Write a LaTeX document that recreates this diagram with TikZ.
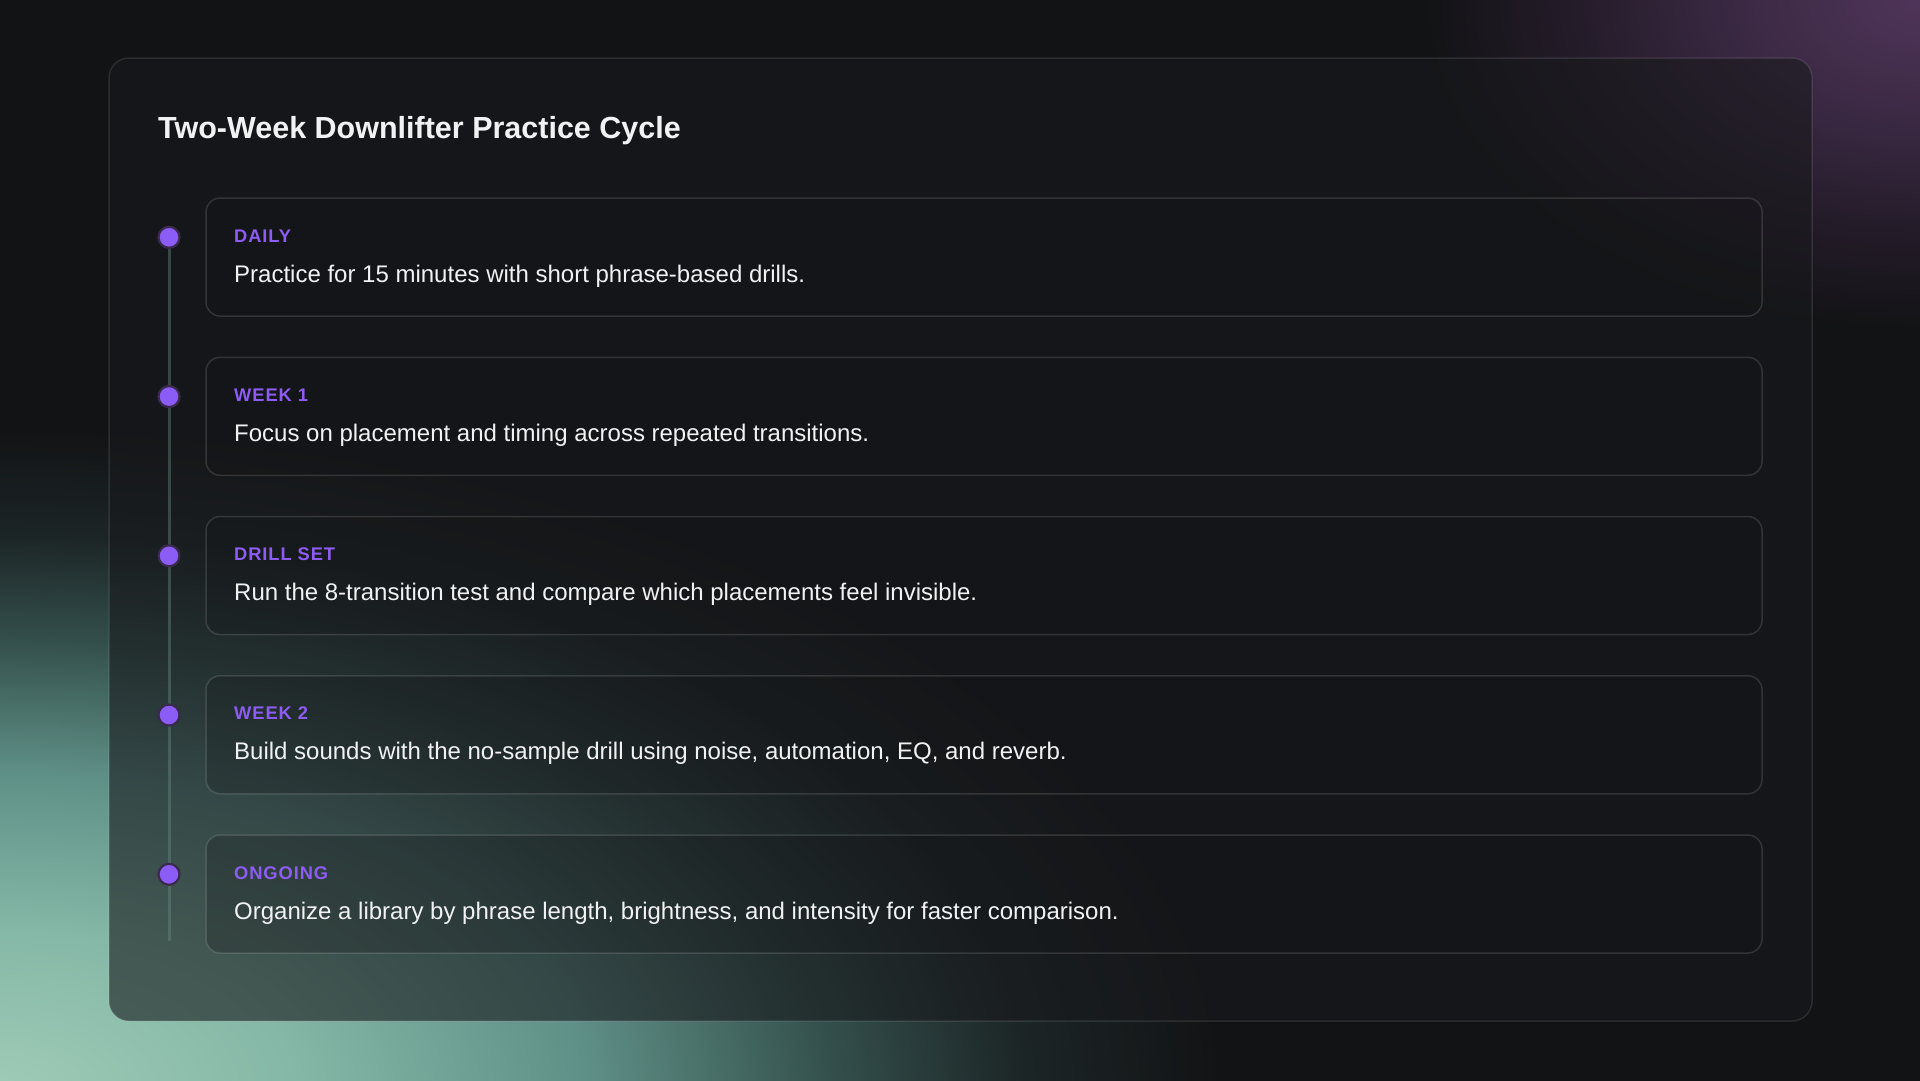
\documentclass[tikz,border=0pt]{standalone}
\usepackage{fontspec}
\setmainfont{Liberation Sans}
\newfontfamily\lblfont{Liberation Sans}[LetterSpace=5]
\definecolor{bgc}{HTML}{121315}
\definecolor{mintA}{HTML}{9ECBB7}
\definecolor{mintB}{HTML}{86B8A7}
\definecolor{mintC}{HTML}{5F9087}
\definecolor{mintD}{HTML}{34504C}
\definecolor{mintE}{HTML}{1C2526}
\definecolor{purA}{HTML}{4F3559}
\definecolor{purB}{HTML}{3B2944}
\definecolor{purC}{HTML}{251C2A}
\definecolor{panelc}{HTML}{18191C}
\definecolor{cardc}{HTML}{141517}
\definecolor{dotc}{HTML}{8B5CF6}
\definecolor{ringc}{HTML}{3A2A4E}
\definecolor{lblc}{HTML}{8D5CF2}
\definecolor{txtc}{HTML}{F1F2F3}
\definecolor{tlc}{RGB}{110,140,132}
\pgfdeclareradialshading{greenglow}{\pgfpoint{0bp}{0bp}}{color(0bp)=(mintA); color(6bp)=(mintB); color(12bp)=(mintC); color(17bp)=(mintD); color(21bp)=(mintE); color(25bp)=(bgc); color(50bp)=(bgc)}
\pgfdeclareradialshading{purpleglow}{\pgfpoint{0bp}{0bp}}{color(0bp)=(purA); color(9bp)=(purB); color(17bp)=(purC); color(25bp)=(bgc); color(50bp)=(bgc)}
\tikzset{
  panel/.style={draw=white, draw opacity=0.1, fill=panelc, fill opacity=0.6, rounded corners=20pt, minimum width=1703pt, minimum height=963pt, inner sep=0pt, line width=1.5pt},
  card/.style={draw=white, draw opacity=0.13, fill=cardc, fill opacity=0.25, rounded corners=14pt, minimum width=1556pt, minimum height=118pt, inner sep=0pt, line width=1.5pt},
  dotnode/.style={circle, fill=dotc, draw=ringc, line width=2.2pt, minimum size=21pt, inner sep=0pt},
  tl/.style={draw=tlc, draw opacity=0.4, line width=3pt},
  lbl/.style={anchor=base west, inner sep=0pt, text=lblc, font=\lblfont\bfseries\fontsize{18.3}{22}\selectfont},
  body/.style={anchor=base west, inner sep=0pt, text=txtc, font=\fontsize{24}{28}\selectfont},
  ttl/.style={anchor=base west, inner sep=0pt, text=txtc, font=\bfseries\fontsize{30.5}{36}\selectfont}
}
\begin{document}
\begin{tikzpicture}[x=1pt,y=-1pt]
\useasboundingbox (0,0) rectangle (1920,1080);
\fill[bgc] (-10,-10) rectangle (1930,1090);
\begin{scope}
\clip (-10,-10) rectangle (1930,1090);
\shade[shading=greenglow] (0,1090) ellipse [x radius=1220, y radius=660];
\shade[shading=purpleglow] (1920,0) ellipse [x radius=500, y radius=330];
\end{scope}
\node[panel] (panel) at (960.5,539.5) {};
\node[ttl] (title) at (158,138) {Two-Week Downlifter Practice Cycle};
% cards
\node[card] (c1) at (984,257) {};
\node[card] (c2) at (984,416.25) {};
\node[card] (c3) at (984,575.5) {};
\node[card] (c4) at (984,734.75) {};
\node[card] (c5) at (984,894) {};
% timeline
\coordinate (t1) at (169,237.3);
\coordinate (t2) at (169,396.55);
\coordinate (t3) at (169,555.8);
\coordinate (t4) at (169,715.05);
\coordinate (t5) at (169,874.3);
\coordinate (tend) at (169,941);
\draw[tl] (t1) -- (tend);
\node[dotnode] (d1) at (t1) {};
\node[dotnode] (d2) at (t2) {};
\node[dotnode] (d3) at (t3) {};
\node[dotnode] (d4) at (t4) {};
\node[dotnode] (d5) at (t5) {};
% texts
\node[lbl] (l1) at (234,242) {DAILY};
\node[body] (b1) at (234,282) {Practice for 15 minutes with short phrase-based drills.};
\node[lbl] (l2) at (234,401.25) {WEEK 1};
\node[body] (b2) at (234,441.25) {Focus on placement and timing across repeated transitions.};
\node[lbl] (l3) at (234,560.5) {DRILL SET};
\node[body] (b3) at (234,600.5) {Run the 8-transition test and compare which placements feel invisible.};
\node[lbl] (l4) at (234,719.75) {WEEK 2};
\node[body] (b4) at (234,759.75) {Build sounds with the no-sample drill using noise, automation, EQ, and reverb.};
\node[lbl] (l5) at (234,879) {ONGOING};
\node[body] (b5) at (234,919) {Organize a library by phrase length, brightness, and intensity for faster comparison.};
\end{tikzpicture}
\end{document}
